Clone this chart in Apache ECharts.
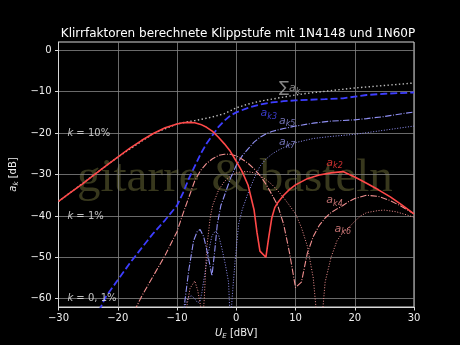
<!DOCTYPE html>
<html><head><meta charset="utf-8">
<script src="https://cdn.jsdelivr.net/npm/echarts@6/dist/echarts.min.js"></script>
<style>html,body{margin:0;padding:0;background:#000}#c{width:460px;height:345px}</style>
</head><body><div id="c"></div>
<script>
// ---- data ----
const titleText = 'Klirrfaktoren berechnete Klippstufe mit 1N4148 und 1N60P';
const xTicks = [-30, -20, -10, 0, 10, 20, 30];
const yTicks = [-60, -50, -40, -30, -20, -10, 0];

const ak2 = [[-30,-36.5],[-28,-34.4],[-26,-32.3],[-24,-30.1],[-22,-27.9],[-20,-25.8],[-18,-23.7],[-16,-21.8],[-14,-20.1],[-12,-18.7],[-10,-17.8],[-9,-17.5],[-8,-17.4],[-7,-17.5],[-6,-17.9],[-5,-18.6],[-4,-19.6],[-3,-21],[-2,-22.6],[-1,-24.4],[0,-26.8],[1,-29.3],[2,-32.6],[3,-38.5],[3.5,-44],[4,-48.5],[5,-50],[5.5,-45],[6,-40.5],[6.5,-38],[7,-36.8],[8,-35],[9,-33.6],[10,-32.5],[12,-31],[14,-30.1],[16,-29.6],[18,-29.3],[20,-30.6],[22,-32.1],[24,-33.7],[26,-35.4],[28,-37.4],[30,-39.5]];
const ak3 = [[-23.2,-63],[-22,-59.5],[-20,-55.5],[-18,-51.5],[-16,-47.8],[-14,-44.2],[-12,-41],[-10,-37.5],[-9,-34.5],[-8,-31],[-7,-28],[-6,-25],[-5,-22.5],[-4,-20.5],[-3,-18.5],[-2,-17],[-1,-15.8],[0,-15],[2,-13.9],[4,-13.1],[6,-12.6],[8,-12.3],[10,-12.1],[15,-11.8],[18,-11.6],[20,-11.2],[22,-10.8],[25,-10.5],[30,-10.2]];
const ak4 = [[-17.2,-63],[-16,-59.5],[-14,-54.5],[-12,-49.5],[-10,-43.8],[-9,-39.5],[-8,-35.5],[-7,-31.5],[-6,-29],[-5,-27.3],[-4,-26.2],[-3,-25.4],[-2,-25.1],[-1,-25.1],[0,-25.5],[1,-26.3],[2,-27.3],[3,-28.6],[4,-30.2],[5,-32.3],[6,-34.8],[7,-37.5],[8,-42],[9,-49],[10,-57.3],[11,-56],[12,-49],[13,-45],[14,-42.3],[15,-40.5],[16,-39.2],[17,-38.3],[18,-37.5],[19,-36.5],[20,-35.8],[22,-35],[24,-35.3],[26,-36.3],[28,-37.8],[30,-39.5]];
const ak5 = [[-9.2,-66],[-8.8,-62],[-8,-53],[-7.2,-46],[-6.6,-43.8],[-6.1,-43.3],[-5.5,-45],[-5,-48],[-4.5,-51.5],[-4.1,-54.5],[-3.6,-48],[-3.2,-42],[-2.6,-37.5],[-1.8,-34.3],[-1,-31],[0,-27.8],[1,-25.5],[2,-23.8],[3,-22.2],[4,-21],[5,-20.2],[6,-19.6],[8,-18.9],[10,-18.3],[13,-17.6],[16,-17.1],[20,-16.8],[22,-16.5],[25,-16],[28,-15.3],[30,-14.9]];
const ak6 = [[-9,-66],[-8.3,-61.5],[-7.8,-57.5],[-7,-55.7],[-6.5,-58],[-6,-62],[-5.7,-66],[-5.4,-60],[-5,-48],[-4.4,-40.5],[-4,-37.5],[-3,-33.8],[-2,-31.7],[-1,-30.4],[0,-29.6],[1,-29.3],[2,-29.3],[3,-29.6],[4,-30.3],[5,-31.2],[6,-32.4],[7,-33.9],[8,-35.6],[9,-37.5],[10,-39.5],[11,-42.8],[12,-47.3],[13,-55],[13.7,-66],[14.4,-66],[15,-56],[16,-50],[17,-46],[18,-44],[19,-42.8],[20,-41.3],[21,-40],[22,-39.2],[24,-38.7],[25,-38.6],[27,-39],[30,-40.3]];
const ak7 = [[-9.2,-66],[-8.6,-61.5],[-8,-59.5],[-7.5,-59.3],[-7,-60],[-6.5,-61],[-6.1,-60.5],[-5.8,-58.5],[-5.2,-53],[-4.7,-48.8],[-4.1,-44.8],[-3.5,-43.6],[-3,-44.5],[-2.4,-48],[-1.8,-52],[-1.3,-56],[-1,-66],[-0.6,-58],[-0.2,-51],[0.4,-42],[1,-38.5],[2,-34.5],[3,-31],[4,-28],[5,-26.3],[6,-25.1],[7,-24.2],[8,-23.5],[10,-22.3],[13,-21.3],[16,-20.8],[20,-20.3],[24,-19.5],[27,-18.9],[30,-18.3]];
const sumAk = [[-30,-36.5],[-20,-25.8],[-14,-20.1],[-10,-17.8],[-9,-17.5],[-8,-17.2],[-7,-17],[-6,-16.7],[-4,-16.1],[-2,-15.3],[-1,-14.6],[0,-13.9],[2,-13],[4,-12.3],[6,-11.8],[8,-11.3],[10,-10.8],[12,-10.4],[15,-9.9],[20,-9.1],[25,-8.5],[30,-7.9]];

const kLevels = [-20, -40, -60];
const kTexts = ['10%', '1%', '0, 1%'];
const curveLabels = [
  { name: 'sum', sub: 'k', at: [7.2, -9.1] },
  { name: 'a', sub: 'k3', at: [4.1, -15.3] },
  { name: 'a', sub: 'k5', at: [7.2, -17.0] },
  { name: 'a', sub: 'k7', at: [7.2, -22.2] },
  { name: 'a', sub: 'k2', at: [15.2, -27.2] },
  { name: 'a', sub: 'k4', at: [15.2, -36.2] },
  { name: 'a', sub: 'k6', at: [16.6, -43.1] }
];
const kAnchorX = -28.5;

// ---- styles ----
const C = {
  sum: '#bdbdbd', k2: '#ff4848', k3: '#3d3dff', k46: '#f29090', k57: '#9090f4',
  lbl3: '#4a4aff', lbl57: '#8d8de0', lbl2: '#ff3b3b', lbl46: '#f08c8c', lblSum: '#a8a8a8'
};
const FONT = 'DejaVu Sans';
const minus = v => String(v).replace('-', '\u2212');

function lineSeries(data, color, width, type, z) {
  return { type: 'line', data: data, showSymbol: false, symbol: 'none', clip: true, z: z,
    lineStyle: { color: color, width: width, type: type, cap: 'butt' }, animation: false, silent: true };
}

const labelColors = { k3: C.lbl3, k5: C.lbl57, k7: C.lbl57, k2: C.lbl2, k4: C.lbl46, k6: C.lbl46, k: C.lblSum };

const labelSeries = {
  type: 'scatter', symbolSize: 0, z: 10, animation: false, silent: true,
  data: curveLabels.map(l => ({ value: l.at })),
  label: {
    show: true, position: 'right', distance: 0,
    formatter: p => {
      const l = curveLabels[p.dataIndex];
      if (l.name === 'sum') return '{sg|\u2211}{sa|a}{ss|k}';
      return '{a' + p.dataIndex + '|a}{s' + p.dataIndex + '|' + l.sub + '}';
    },
    rich: (function () {
      const r = {
        sg: { fontFamily: FONT, fontSize: 15, color: C.lblSum, lineHeight: 16, verticalAlign: 'middle' },
        sa: { fontFamily: FONT, fontStyle: 'italic', fontSize: 11, color: C.lblSum, lineHeight: 16, verticalAlign: 'middle' },
        ss: { fontFamily: FONT, fontStyle: 'italic', fontSize: 8, color: C.lblSum, lineHeight: 8, verticalAlign: 'bottom' }
      };
      curveLabels.forEach((l, i) => {
        const col = labelColors[l.sub] || '#fff';
        r['a' + i] = { fontFamily: FONT, fontStyle: 'italic', fontSize: 11, color: col, lineHeight: 15, verticalAlign: 'middle' };
        r['s' + i] = { fontFamily: FONT, fontStyle: 'italic', fontSize: 8, color: col, lineHeight: 8, verticalAlign: 'bottom' };
      });
      return r;
    })()
  }
};

const kSeries = {
  type: 'scatter', symbolSize: 0, z: 10, animation: false, silent: true,
  data: kLevels.map(v => [kAnchorX, v]),
  label: {
    show: true, position: 'right', distance: 0,
    formatter: p => '{k|k}{t| = ' + kTexts[p.dataIndex] + '}',
    rich: {
      k: { fontFamily: FONT, fontStyle: 'italic', fontSize: 10, color: '#eeeeee' },
      t: { fontFamily: FONT, fontSize: 10, color: '#eeeeee' }
    }
  }
};

const chart = echarts.init(document.getElementById('c'), null, { renderer: 'canvas' });
chart.setOption({
  backgroundColor: '#000000',
  animation: false,
  title: {
    text: titleText, left: 233, top: 23, textAlign: 'center',
    textStyle: { color: '#ffffff', fontFamily: FONT, fontSize: 12, fontWeight: 'normal' }
  },
  graphic: [{
    type: 'text', left: 77, top: 155, z: -10, silent: true,
    style: { text: 'gitarre & basteln', fontFamily: 'Liberation Serif', fontSize: 47, fill: '#38381d' }
  }],
  grid: { left: 58, right: 46, top: 42, bottom: 38, show: true, borderColor: '#d8d8d8', borderWidth: 1, backgroundColor: 'transparent' },
  xAxis: {
    type: 'value', min: -30, max: 30, interval: 10,
    name: '{u|U}{e|E}{r| [dBV]}', nameLocation: 'middle', nameGap: 20,
    nameTextStyle: { rich: {
      u: { fontFamily: FONT, fontStyle: 'italic', fontSize: 10, color: '#eeeeee', lineHeight: 13, verticalAlign: 'middle' },
      e: { fontFamily: FONT, fontStyle: 'italic', fontSize: 7, color: '#eeeeee', lineHeight: 7, verticalAlign: 'bottom' },
      r: { fontFamily: FONT, fontSize: 10, color: '#eeeeee', lineHeight: 13, verticalAlign: 'middle' }
    } },
    axisLine: { show: true, onZero: false, lineStyle: { color: '#d8d8d8', width: 1 } },
    axisTick: { show: true, inside: false, length: 3.5, lineStyle: { color: '#d8d8d8' } },
    axisLabel: { color: '#eeeeee', fontFamily: FONT, fontSize: 10, margin: 6, formatter: minus },
    splitLine: { show: true, lineStyle: { color: '#858585', width: 0.8 } }
  },
  yAxis: {
    type: 'value', min: -62, max: 2,
    name: '{a|a}{k|k}{r| [dB]}', nameLocation: 'middle', nameGap: 34, nameRotate: 90,
    nameTextStyle: { rich: {
      a: { fontFamily: FONT, fontStyle: 'italic', fontSize: 10, color: '#eeeeee', lineHeight: 13, verticalAlign: 'middle' },
      k: { fontFamily: FONT, fontStyle: 'italic', fontSize: 7, color: '#eeeeee', lineHeight: 7, verticalAlign: 'bottom' },
      r: { fontFamily: FONT, fontSize: 10, color: '#eeeeee', lineHeight: 13, verticalAlign: 'middle' }
    } },
    axisLine: { show: true, onZero: false, lineStyle: { color: '#d8d8d8', width: 1 } },
    axisTick: { show: true, inside: false, length: 3.5, customValues: yTicks, lineStyle: { color: '#d8d8d8' } },
    axisLabel: { color: '#eeeeee', fontFamily: FONT, fontSize: 10, margin: 7, customValues: yTicks, formatter: minus },
    splitLine: { show: true, lineStyle: { color: '#858585', width: 0.8 } }
  },
  series: [
    lineSeries(sumAk, C.sum, 1.4, [1.4, 2.4], 2),
    lineSeries(ak7, C.k57, 1, [1, 1.7], 3),
    lineSeries(ak6, C.k46, 1, [1, 1.7], 3),
    lineSeries(ak5, C.k57, 1.1, [6.4, 1.6, 1, 1.6], 4),
    lineSeries(ak4, C.k46, 1.1, [6.4, 1.6, 1, 1.6], 4),
    lineSeries(ak3, C.k3, 1.8, [7, 3], 5),
    lineSeries(ak2, C.k2, 1.6, 'solid', 6),
    labelSeries,
    kSeries
  ]
});
</script></body></html>
